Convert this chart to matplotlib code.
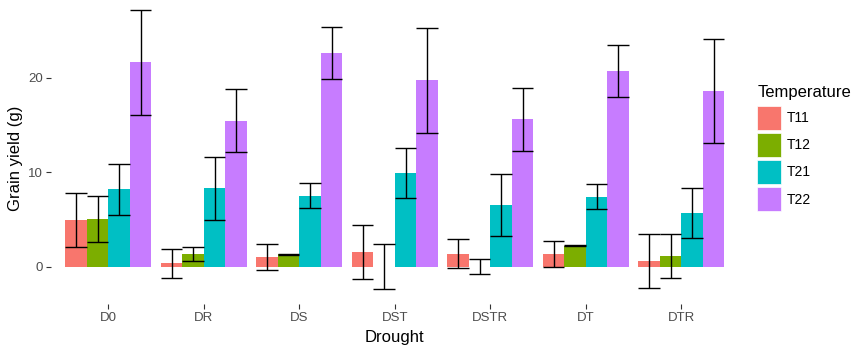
import numpy as np
import matplotlib
matplotlib.use("Agg")
import matplotlib.pyplot as plt

plt.rcParams['font.family'] = ['Liberation Sans', 'DejaVu Sans']

droughts = ["D0", "DR", "DS", "DST", "DSTR", "DT", "DTR"]
temps = ["T11", "T12", "T21", "T22"]

t11_mean = [4.94, 0.36, 0.99, 1.52, 1.38, 1.38, 0.60]
t11_se = [2.86, 1.55, 1.38, 2.86, 1.51, 1.39, 2.84]
t12_mean = [5.05, 1.34, 1.34, 0.0, 0.0, 2.22, 1.13]
t12_se = [2.40, 0.75, 0.05, 2.38, 0.78, 0.05, 2.37]
t21_mean = [8.19, 8.30, 7.51, 9.92, 6.53, 7.41, 5.65]
t21_se = [2.70, 3.35, 1.33, 2.67, 3.31, 1.30, 2.65]
t22_mean = [21.63, 15.45, 22.60, 19.72, 15.60, 20.70, 18.62]
t22_se = [5.55, 3.33, 2.77, 5.57, 3.33, 2.79, 5.52]

means = [t11_mean, t12_mean, t21_mean, t22_mean]
ses = [t11_se, t12_se, t21_se, t22_se]
colors = ["#F8766D", "#7CAE00", "#00BFC4", "#C77CFF"]

fig = plt.figure(figsize=(8.6, 3.49), dpi=100)
ax = fig.add_axes([0.0593, 0.1302, 0.7995, 0.8698])

x = np.arange(1, len(droughts) + 1)
w = 0.9 / len(temps)
for j, (m, s, c, lab) in enumerate(zip(means, ses, colors, temps)):
    xs = x + (j - 1.5) * w
    m = np.array(m)
    s = np.array(s)
    ax.bar(xs, m, width=w, color=c, label=lab, edgecolor="none")
    # error bars: mean +/- se, caps as wide as the bar
    ax.vlines(xs, m - s, m + s, color="black", lw=1.0)
    ax.hlines(m + s, xs - w / 2, xs + w / 2, color="black", lw=1.0)
    ax.hlines(m - s, xs - w / 2, xs + w / 2, color="black", lw=1.0)

ax.set_xlim(0.4, 7.6)
ax.set_ylim(-3.9, 28.22)
ax.set_xticks(x)
ax.set_xticklabels(droughts)
ax.set_yticks([0, 10, 20])
for sp in ax.spines.values():
    sp.set_visible(False)
ax.tick_params(axis="both", colors="#333333", labelcolor="#4D4D4D",
               labelsize=9.5, length=3.5, width=0.8, pad=2.5)

ax.set_xlabel("Drought", fontsize=12)
ax.set_ylabel("Grain yield (g)", fontsize=12)
ax.xaxis.set_label_coords(0.5, -0.086)
ax.yaxis.set_label_coords(-0.041, 0.478)

leg = ax.legend(title="Temperature", loc="upper left",
                bbox_to_anchor=(1.027, 0.72), frameon=False,
                fontsize=10, title_fontsize=12, handlelength=1.73,
                handleheight=2.28, labelspacing=0.22, handletextpad=0.43,
                borderpad=0, borderaxespad=0, alignment="left")
leg._legend_box.sep = 0.22 * 10 + 2.2
for p in leg.get_patches():
    p.set_edgecolor("white")
    p.set_linewidth(0.5)

fig.savefig("out.png", dpi=100)
